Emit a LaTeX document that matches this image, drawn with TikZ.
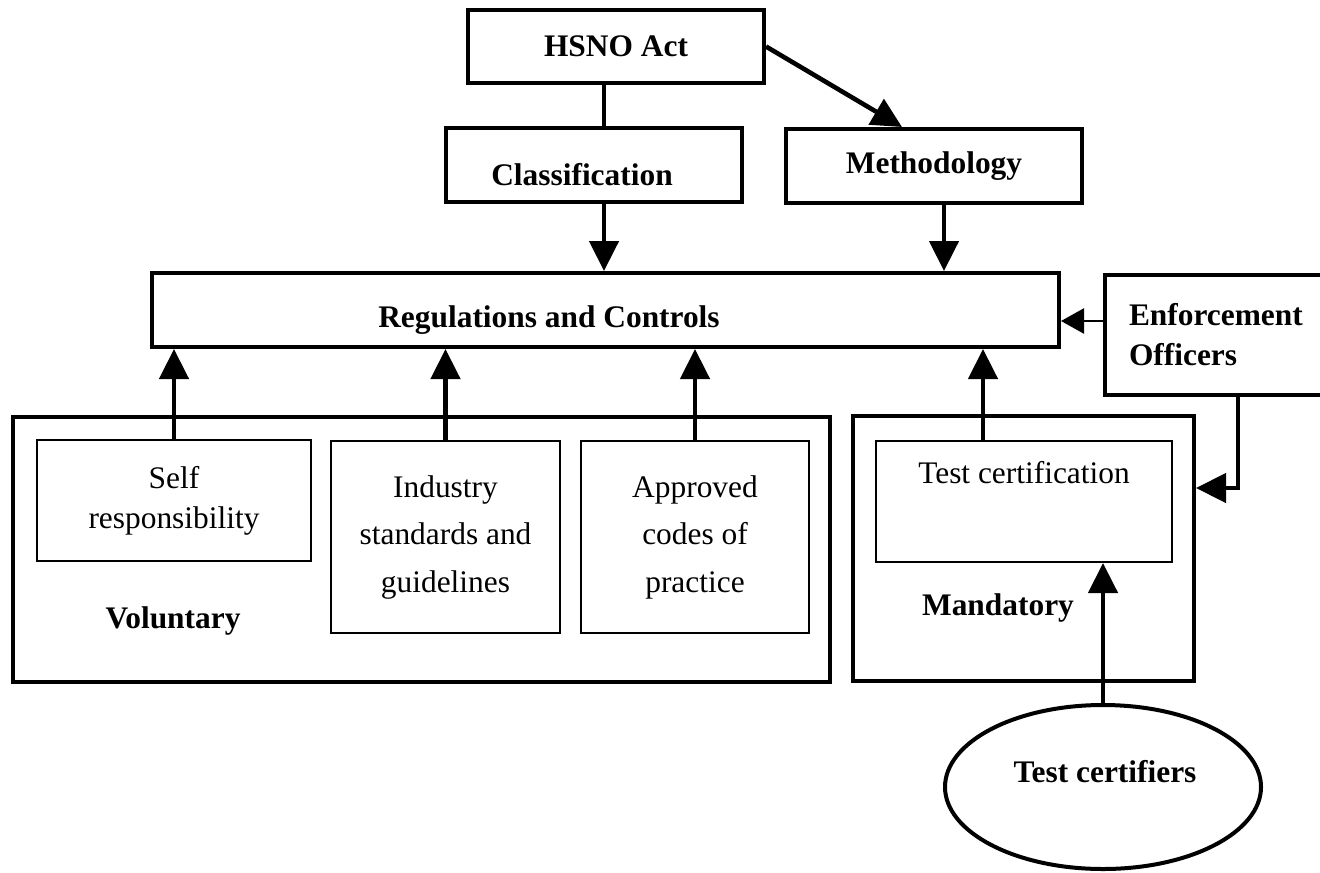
\documentclass[tikz,border=0pt]{standalone}
\usepackage{fontspec}
\setmainfont{Liberation Serif}
\usetikzlibrary{arrows.meta,shapes.geometric}

\begin{document}
\begin{tikzpicture}[x=0.5pt, y=-0.5pt,
    font=\fontsize{15.7}{20}\selectfont,
    every node/.style={inner sep=0pt, align=center},
    heavybox/.style={draw, line width=2pt, rectangle},
    lightbox/.style={draw, line width=1pt, rectangle},
    title/.style={font=\fontsize{15.7}{20}\selectfont\bfseries},
    tall/.style={font=\fontsize{15.7}{23.75}\selectfont},
    link/.style={line width=2.3pt, -{Triangle[length=15pt, width=14.5pt]}},
    thinlink/.style={line width=1.25pt, -{Triangle[length=11.5pt, width=12.5pt]}},
    ]
    \useasboundingbox (0,0) rectangle (1320,872);

    % top row
    \node[heavybox, title, minimum width=148pt, minimum height=36.5pt] (hsno) at (616,46.5) {HSNO Act};
    \node[heavybox, minimum width=148pt, minimum height=37pt] (class) at (594,165) {};
    \node[title] (class-text) at ([xshift=-6pt, yshift=-4.75pt]class.center) {Classification};
    \node[heavybox, title, minimum width=148pt, minimum height=37pt] (meth) at (934,166) {Methodology};

    % regulations and enforcement
    \node[heavybox, minimum width=453.5pt, minimum height=37pt] (regs) at (605.5,310) {};
    \node[title] (regs-text) at ([xshift=-28.25pt, yshift=-5pt]regs.center) {Regulations and Controls};
    \node[heavybox, title, anchor=north west, minimum width=113.5pt, minimum height=60pt,
          text width=89.5pt, align=left] (enf) at (1103,273) {Enforcement\\Officers};

    % voluntary group
    \node[heavybox, minimum width=408.5pt, minimum height=132.5pt] (vol) at (421.5,549.5) {};
    \node[lightbox, minimum width=137pt, minimum height=60.5pt] (self) at (174,500.5) {Self\\responsibility};
    \node[lightbox, tall, minimum width=114.5pt, minimum height=96pt] (industry) at (445.5,537) {Industry\\standards and\\guidelines};
    \node[lightbox, tall, minimum width=114pt, minimum height=96pt] (approved) at (695,537) {Approved\\codes of\\practice};
    \node[title] (vol-text) at (173,621) {Voluntary};

    % mandatory group
    \node[heavybox, minimum width=170.5pt, minimum height=132.5pt] (mand) at (1023.5,548.5) {};
    \node[lightbox, minimum width=148pt, minimum height=60.5pt] (testcert) at (1024,501.5) {};
    \node (testcert-text) at ([yshift=14.5pt]testcert.center) {Test certification};
    \node[title] (mand-text) at (998,608) {Mandatory};

    \node[draw, ellipse, line width=2pt, minimum width=158pt, minimum height=82pt] (cert) at (1103,787) {};
    \node[title] (cert-text) at (1105,771.5) {Test certifiers};

    % connectors
    \draw[line width=2.3pt] (hsno.south -| 604,0) -- (class.north -| 604,0);
    \draw[link] (hsno.east) -- (meth.north -| 902,0);
    \draw[link] (class.south -| 604,0) -- (regs.north -| 604,0);
    \draw[link] (meth.south -| 944,0) -- (regs.north -| 944,0);
    \foreach \src in {self, industry, approved}
        \draw[link] (\src.north) -- (regs.south -| \src.north);
    \draw[link] (testcert.north -| 983,0) -- (regs.south -| 983,0);
    \draw[thinlink] (enf.west |- 0,321) -- (regs.east |- 0,321);
    \draw[link] (enf.south -| 1238,0) |- (mand.east |- 0,488);
    \draw[link] (cert.north) -- (testcert.south -| cert.north);
\end{tikzpicture}
\end{document}
